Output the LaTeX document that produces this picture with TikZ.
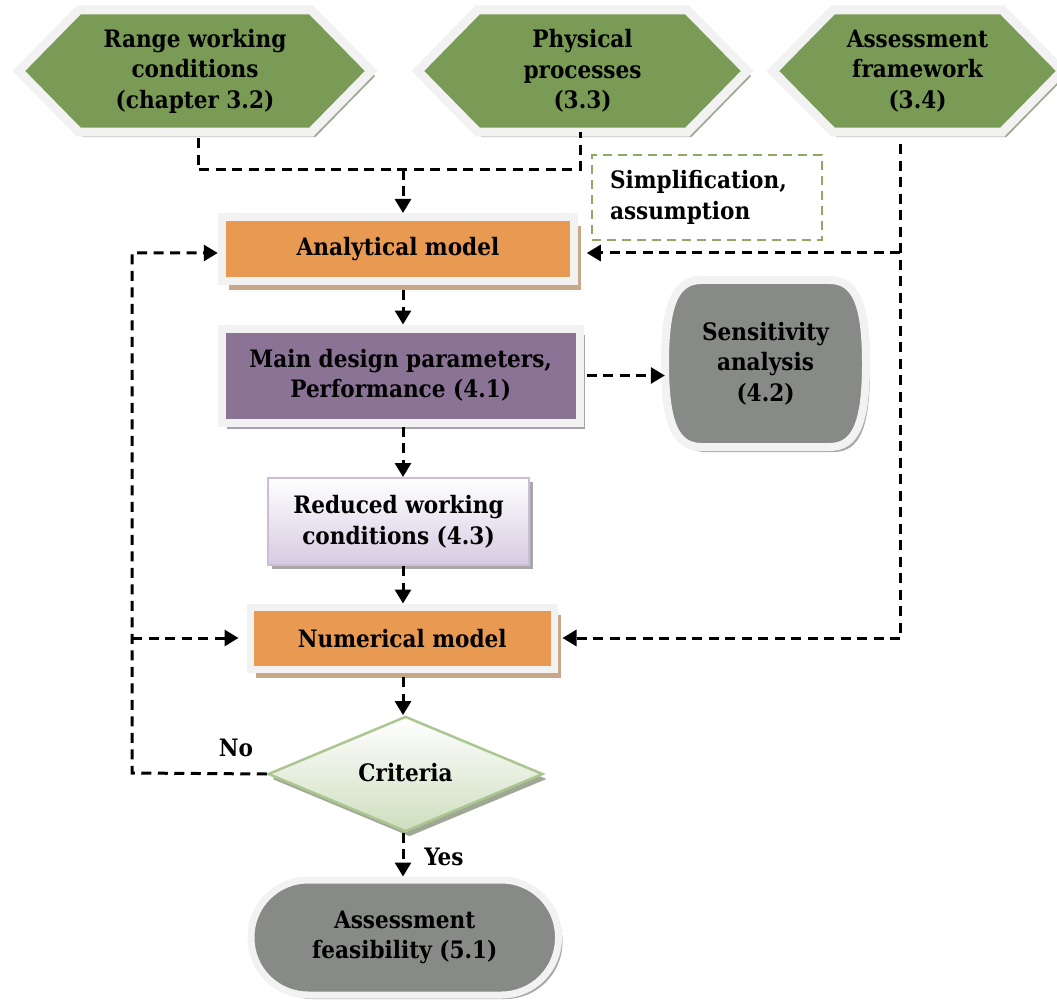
\documentclass[tikz,border=0pt]{standalone}
\usepackage{fontspec}
\setmainfont{DejaVu Serif Condensed}
\usetikzlibrary{arrows.meta,shadows,shapes.geometric,calc}
\definecolor{hexgreen}{RGB}{122,155,86}
\definecolor{hexshadow}{RGB}{158,168,148}
\definecolor{rimwhite}{RGB}{242,242,242}
\definecolor{orangefill}{RGB}{232,154,82}
\definecolor{tanshadow}{RGB}{201,168,138}
\definecolor{purplefill}{RGB}{139,115,150}
\definecolor{purpleshadow}{RGB}{170,160,176}
\definecolor{grayfill}{RGB}{136,138,135}
\definecolor{grayshadow}{RGB}{168,168,168}
\definecolor{lavender}{RGB}{214,202,226}
\definecolor{lavborder}{RGB}{205,190,216}
\definecolor{diagreen}{RGB}{206,222,190}
\definecolor{diaborder}{RGB}{172,198,146}
\definecolor{simpgreen}{RGB}{140,170,100}
\pgfdeclarelayer{bg}
\pgfsetlayers{bg,main}
\newcommand\hexpath[2]{(#1.west) -- ($(#1.north west)+(#2,0)$) -- ($(#1.north east)+(-#2,0)$) -- (#1.east) -- ($(#1.south east)+(-#2,0)$) -- ($(#1.south west)+(#2,0)$) -- cycle}
\begin{document}
\begin{tikzpicture}[x=1pt,y=-1pt,
  every node/.style={font=\fontsize{24}{30.5}\selectfont\bfseries, align=center, inner sep=0pt, text=black},
  conn/.style={line width=3pt, dash pattern=on 10pt off 6.5pt, black},
  arr/.style={conn, -{Triangle[length=14pt,width=16pt]}},
  hexnode/.style={minimum height=122pt},
  rimbox/.style={draw=rimwhite, line width=8pt},
  hexfill/.style={fill=hexgreen, draw=rimwhite, line width=9pt, line join=miter},
  hexshade/.style={fill=hexshadow, transform canvas={xshift=4pt,yshift=-5pt}},
  label/.style={font=\fontsize{24}{30}\selectfont\bfseries}
]
\useasboundingbox (0,0) rectangle (1057,1000);

% top hexagons
\node[hexnode, minimum width=352pt] (h1) at (195,71) {Range working\\conditions\\(chapter 3.2)};
\node[hexnode, minimum width=329pt] (h2) at (582.5,71) {Physical\\processes\\(3.3)};
\node[hexnode, minimum width=289pt] (h3) at (917.5,71) {Assessment\\framework\\(3.4)};
\begin{pgfonlayer}{bg}
  \foreach \h in {h1,h2,h3}{
    \path[hexshade] \hexpath{\h}{60};
    \path[hexfill] \hexpath{\h}{60};
  }
\end{pgfonlayer}

% simplification box
\node[draw=simpgreen, line width=2.5pt, dash pattern=on 9pt off 6pt,
      minimum width=230pt, minimum height=85pt, text width=194pt, align=left] (SB) at (707,197.5)
      {Simplification,\\assumption};

% analytical model
\node[rimbox, fill=orangefill, minimum width=352.5pt, minimum height=64pt,
      drop shadow={shadow xshift=7pt, shadow yshift=-9pt, fill=tanshadow, opacity=1}] (A) at (398,249) {Analytical model};

% main design parameters
\node[rimbox, fill=purplefill, minimum width=357.5pt, minimum height=94pt,
      drop shadow={shadow xshift=5pt, shadow yshift=-6pt, fill=purpleshadow, opacity=1}] (M) at (400.75,375.5)
      {Main design parameters,\\Performance (4.1)};

% sensitivity analysis
\node[minimum width=201pt, minimum height=167pt] (S) at (765.5,363.5) {Sensitivity\\analysis\\(4.2)};
\begin{pgfonlayer}{bg}
  \path[fill=grayshadow, transform canvas={xshift=4pt,yshift=-5pt}, shift={(S.center)}]
    (-64,-83.5) -- (64,-83.5) .. controls (90,-83.5) and (100.5,-60) .. (100.5,0)
    .. controls (100.5,60) and (90,83.5) .. (64,83.5) -- (-64,83.5)
    .. controls (-90,83.5) and (-100.5,60) .. (-100.5,0)
    .. controls (-100.5,-60) and (-90,-83.5) .. (-64,-83.5) -- cycle;
  \path[fill=grayfill, draw=rimwhite, line width=8pt, shift={(S.center)}]
    (-64,-83.5) -- (64,-83.5) .. controls (90,-83.5) and (100.5,-60) .. (100.5,0)
    .. controls (100.5,60) and (90,83.5) .. (64,83.5) -- (-64,83.5)
    .. controls (-90,83.5) and (-100.5,60) .. (-100.5,0)
    .. controls (-100.5,-60) and (-90,-83.5) .. (-64,-83.5) -- cycle;
\end{pgfonlayer}

% reduced working conditions
\node[draw=lavborder, line width=2pt, top color=white, bottom color=lavender,
      minimum width=261pt, minimum height=87pt,
      drop shadow={shadow xshift=4pt, shadow yshift=-4pt, fill=grayshadow, opacity=1}] (R) at (398.5,521.5)
      {Reduced working\\conditions (4.3)};

% numerical model
\node[rimbox, line width=7pt, fill=orangefill, minimum width=304.5pt, minimum height=62.5pt,
      drop shadow={shadow xshift=6pt, shadow yshift=-8pt, fill=tanshadow, opacity=1}] (N) at (402.25,638.25) {Numerical model};

% criteria
\node[diamond, draw=diaborder, line width=2.5pt, top color=white, bottom color=diagreen,
      minimum width=275pt, minimum height=108pt,
      drop shadow={shadow xshift=4pt, shadow yshift=-5pt, fill=hexshadow, opacity=1}] (C) at (405.5,774) {\raisebox{3pt}{Criteria}};

% assessment feasibility
\node[rimbox, line width=7pt, fill=grayfill, rounded corners=57pt, minimum width=307.5pt, minimum height=115pt,
      drop shadow={shadow xshift=4pt, shadow yshift=-4pt, fill=grayshadow, opacity=1}] (F) at (404.75,937.5)
      {Assessment\\feasibility (5.1)};

% labels
\node[label] (no) at (236,748) {No};
\node[label] (yes) at (444,857) {Yes};

% junctions
\coordinate (j1) at (198,170);
\coordinate (j2) at (580,170);
\coordinate (j3) at (403,170);
\coordinate (j4) at (900,253);
\coordinate (j5) at (900,638);
\coordinate (j6) at (132,773);
\coordinate (j7) at (132,253);
\coordinate (j8) at (132,638);

% connectors
\draw[conn, shorten <=6pt] (j1 |- h1.south) -- (j1) -- (j2) -- (j2 |- h2.south);
\draw[arr] (j3) -- (A.north -| j3);
\draw[conn, shorten <=12pt] (j5 |- h3.south) -- (j5);
\draw[arr, shorten >=8.5pt] (j4) -- (A.east |- j4);
\draw[arr, shorten >=4.5pt] (j5) -- (N.east |- j5);
\draw[arr, shorten <=5pt] (A.south -| j3) -- (M.north -| j3);
\draw[arr, shorten <=3pt] (M.east) -- (S.west |- M.east);
\draw[arr] (M.south -| j3) -- (R.north -| j3);
\draw[arr] (R.south -| j3) -- (N.north -| j3);
\draw[arr, shorten <=4pt] (N.south -| j3) -- (C.north -| j3);
\draw[arr] (C.west) -- (j6) -- (j7) -- (A.west |- j7);
\draw[arr, shorten >=8pt] (j8) -- (N.west |- j8);
\draw[arr] (C.south -| j3) -- (F.north -| j3);
\end{tikzpicture}
\end{document}
